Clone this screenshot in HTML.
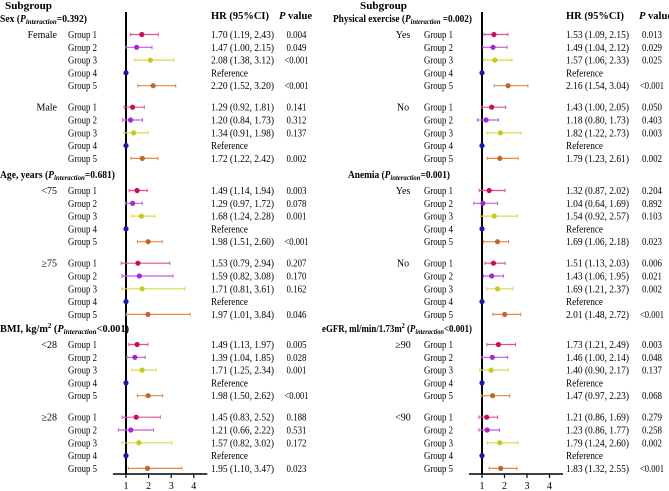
<!DOCTYPE html>
<html><head><meta charset="utf-8">
<style>
html,body{margin:0;padding:0;background:#fff;}
svg{display:block;font-family:"Liberation Serif",serif;}
</style></head>
<body>
<svg id="chart" width="669" height="491" viewBox="0 0 669 491" xmlns="http://www.w3.org/2000/svg"></svg>
<script>
// ---- data ----
const groupLabels = ["Group 1","Group 2","Group 3","Group 4","Group 5"];
const leftSubgroups = ["Female","Male","<75","≥75","<28","≥28"];
const rightSubgroups = ["Yes","No","Yes","No","≥90","<90"];
const leftHR = [[1.70,1.47,2.08,1,2.20],[1.29,1.20,1.34,1,1.72],[1.49,1.29,1.68,1,1.98],[1.53,1.59,1.71,1,1.97],[1.49,1.39,1.71,1,1.98],[1.45,1.21,1.57,1,1.95]];
const leftLo = [[1.19,1.00,1.38,1,1.52],[0.92,0.84,0.91,1,1.22],[1.14,0.97,1.24,1,1.51],[0.79,0.82,0.81,1,1.01],[1.13,1.04,1.25,1,1.50],[0.83,0.66,0.82,1,1.10]];
const leftHi = [[2.43,2.15,3.12,1,3.20],[1.81,1.73,1.98,1,2.42],[1.94,1.72,2.28,1,2.60],[2.94,3.08,3.61,1,3.84],[1.97,1.85,2.34,1,2.62],[2.52,2.22,3.02,1,3.47]];
const leftP = [["0.004","0.049","<0.001","","<0.001"],["0.141","0.312","0.137","","0.002"],["0.003","0.078","0.001","","<0.001"],["0.207","0.170","0.162","","0.046"],["0.005","0.028","0.001","","<0.001"],["0.188","0.531","0.172","","0.023"]];
const rightHR = [[1.53,1.49,1.57,1,2.16],[1.43,1.18,1.82,1,1.79],[1.32,1.04,1.54,1,1.69],[1.51,1.43,1.69,1,2.01],[1.73,1.46,1.40,1,1.47],[1.21,1.23,1.79,1,1.83]];
const rightLo = [[1.09,1.04,1.06,1,1.54],[1.00,0.80,1.22,1,1.23],[0.87,0.64,0.92,1,1.06],[1.13,1.06,1.21,1,1.48],[1.21,1.00,0.90,1,0.97],[0.86,0.86,1.24,1,1.32]];
const rightHi = [[2.15,2.12,2.33,1,3.04],[2.05,1.73,2.73,1,2.61],[2.02,1.69,2.57,1,2.18],[2.03,1.95,2.37,1,2.72],[2.49,2.14,2.17,1,2.23],[1.69,1.77,2.60,1,2.55]];
const rightP = [["0.013","0.029","0.025","","<0.001"],["0.050","0.403","0.003","","0.002"],["0.204","0.892","0.103","","0.023"],["0.006","0.021","0.002","","<0.001"],["0.003","0.048","0.137","","0.068"],["0.279","0.258","0.002","","<0.001"]];
const xTicks = [1,2,3,4];

const dotColors = ["#c8105a","#a526d8","#c8c81e","#1a1aa8","#c0682a"];
const barColors = ["#e0509a","#c45ae8","#dada50","#1a1aa8","#e08a48"];

const svg = document.getElementById('chart');
const NS = "http://www.w3.org/2000/svg";
function mk(tag, attrs, parent){
  const e = document.createElementNS(NS, tag);
  for (const k in attrs) e.setAttribute(k, attrs[k]);
  (parent||svg).appendChild(e);
  return e;
}
function fmt(v){return v.toFixed(2);}

const headerY = [18, 174, 328];
function blockStart(b){
  const sec = Math.floor(b/2);
  return headerY[sec] + 16.5 + (b%2)*(4*12.8+21.5);
}
function rowY(b,g){return blockStart(b)+g*12.8;}

function panel(opt){
  const g = mk('g',{});
  
  
  const x = v => opt.x1 + (v-1)*opt.scale;
  let t = mk('text',{x:opt.subX,y:9,'font-size':10.5,'font-weight':'bold',textLength:47,lengthAdjust:'spacingAndGlyphs'},g); t.textContent="Subgroup";
   
  t = mk('text',{x:opt.hrX,y:19,'font-size':10.5,'font-weight':'bold',textLength:58,lengthAdjust:'spacingAndGlyphs'},g); t.textContent="HR (95%CI)";
   
  t = mk('text',{x:opt.pHX,y:19,'font-size':10.5,'font-weight':'bold',textLength:33,lengthAdjust:'spacingAndGlyphs'},g);
  t.innerHTML='<tspan font-style="italic">P</tspan> value';
   
  opt.sections.forEach((s,i)=>{
    const h = mk('text',{x:s.x,y:headerY[i]+4,'font-size':10.5,'font-weight':'bold',textLength:s.w,lengthAdjust:'spacingAndGlyphs'},g);
    h.innerHTML = s.html;
    
    
  });
  const vl = mk('line',{x1:x(1),x2:x(1),y1:12,y2:474,stroke:'#000','stroke-width':2},g);
   
  const ax = mk('line',{x1:x(0.42),x2:x(4.6),y1:474,y2:474,stroke:'#000','stroke-width':1.5},g);
   
  xTicks.forEach(v=>{
    const tk = mk('line',{x1:x(v),x2:x(v),y1:474,y2:478,stroke:'#000','stroke-width':1.2},g);
     
    const tl = mk('text',{x:x(v),y:489,'font-size':10,'text-anchor':'middle'},g);
    tl.textContent = v;
     
  });
  for (let b=0;b<6;b++){
    const sl = mk('text',{x:opt.subLX,y:rowY(b,0)+3.5,'font-size':10,'text-anchor':opt.subAnchor},g);
    sl.textContent = opt.subs[b];
     
    for (let k=0;k<5;k++){
      const y = rowY(b,k);
      const gl = mk('text',{x:opt.grpX,y:y+3.5,'font-size':10.5,textLength:29,lengthAdjust:'spacingAndGlyphs'},g);
      gl.textContent = groupLabels[k];
       
      const hr = opt.hr[b][k], lo = opt.lo[b][k], hi = opt.hi[b][k];
      if (k!==3){
        const bar = mk('line',{x1:x(lo),x2:x(hi),y1:y,y2:y,stroke:barColors[k],'stroke-width':1.2},g);
         
        [lo,hi].forEach(v=>{
          const c = mk('line',{x1:x(v),x2:x(v),y1:y-1.8,y2:y+1.8,stroke:barColors[k],'stroke-width':1},g);
           
        });
        const ht = mk('text',{x:opt.hrX,y:y+3.5,'font-size':10.5,textLength:63,lengthAdjust:'spacingAndGlyphs'},g);
        ht.textContent = fmt(hr)+" ("+fmt(lo)+", "+fmt(hi)+")";
         
        const pv = opt.p[b][k];
        const pt = mk('text',{x:opt.pX,y:y+3.5,'font-size':10,'text-anchor':'middle',textLength:(pv.length>5?24:20),lengthAdjust:'spacingAndGlyphs'},g);
        pt.textContent = pv;
         
      } else {
        const ht = mk('text',{x:opt.hrX,y:y+3.5,'font-size':10.5,textLength:37,lengthAdjust:'spacingAndGlyphs'},g);
        ht.textContent = "Reference";
         
      }
      const d = mk('circle',{cx:x(hr),cy:y,r:2.6,fill:dotColors[k]},g);
       
    }
  }
}
const sub = '(<tspan font-style="italic">P</tspan><tspan font-style="italic" font-size="7.5" dy="2">interaction</tspan><tspan dy="-2">';
panel({name:'left-panel', x1:126, scale:22.6, subX:5, hrX:211, pHX:279, pX:296.5, grpX:68, subLX:57, subAnchor:'end',
  subs:leftSubgroups, hr:leftHR, lo:leftLo, hi:leftHi, p:leftP,
  sections:[{x:0,w:87,html:'Sex '+sub+'=0.392)</tspan>'},
            {x:0,w:115,html:'Age, years '+sub+'=0.681)</tspan>'},
            {x:0,w:129,html:'BMI, kg/m<tspan font-size="7" dy="-4">2</tspan><tspan dy="4"> </tspan>'+sub+'&lt;0.001)</tspan>'}]});
panel({name:'right-panel', x1:482, scale:22.5, subX:360, hrX:566, pHX:639, pX:652, grpX:424, subLX:403, subAnchor:'middle',
  subs:rightSubgroups, hr:rightHR, lo:rightLo, hi:rightHi, p:rightP,
  sections:[{x:333,w:139,html:'Physical exercise '+sub+' =0.002)</tspan>'},
            {x:348,w:102,html:'Anemia '+sub+'=0.001)</tspan>'},
            {x:322,w:150,html:'eGFR, ml/min/1.73m<tspan font-size="7" dy="-4">2</tspan><tspan dy="4"> </tspan>'+sub+'&lt;0.001)</tspan>'}]});
</script>
</body></html>
